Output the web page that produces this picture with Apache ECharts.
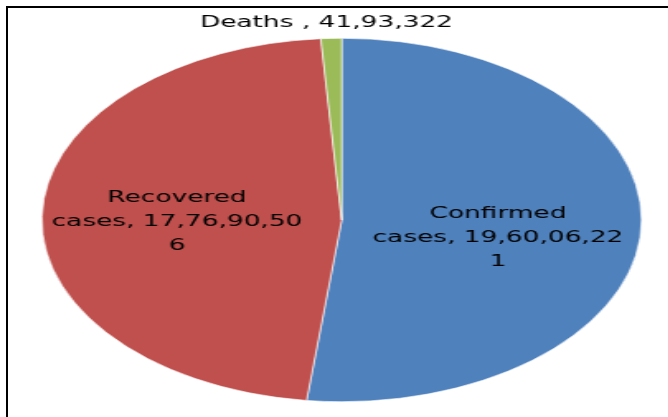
<!DOCTYPE html>
<html>
<head>
<meta charset="utf-8">
<script src="https://cdn.jsdelivr.net/npm/echarts@6/dist/echarts.min.js"></script>
<style>
  html, body { margin: 0; padding: 0; background: #fff; }
  #wrap { position: relative; width: 668px; height: 417px; overflow: hidden; background: #fff; }
  #frame { position: absolute; left: 6px; top: 6px; width: 700px; height: 450px;
           border-left: 2px solid #000; border-top: 2px solid #000; box-sizing: border-box; }
  #chart { position: absolute; left: 0; top: 0; width: 404.85px; height: 417px;
           transform-origin: 0 0; transform: scaleX(1.65); }
</style>
</head>
<body>
<div id="wrap">
  <div id="frame"></div>
  <div id="chart"></div>
</div>
<script>
  // Data
  const categories = ['Confirmed cases', 'Recovered cases', 'Deaths'];
  const values = [196006221, 177690506, 4193322];
  const labelTexts = [
    'Confirmed\ncases, 19,60,06,22\n1',
    'Recovered\ncases, 17,76,90,50\n6',
    'Deaths , 41,93,322'
  ];
  const colors = ['#4F81BD', '#C0504D', '#9BBB59'];
  const labelOffsets = [[1, 12], [-6, 4], [-6, -103]];

  const chart = echarts.init(document.getElementById('chart'), null, { renderer: 'canvas' });
  const data = categories.map((c, i) => ({
    name: c,
    value: values[i],
    itemStyle: { color: colors[i] },
    label: { offset: labelOffsets[i] }
  }));
  chart.setOption({
    animation: false,
    series: [{
      type: 'pie',
      center: [207.1, 220],
      radius: [0, 181.7],
      startAngle: 90,
      clockwise: true,
      data: data,
      itemStyle: { borderColor: '#ffffff', borderWidth: 0.6 },
      label: {
        show: true,
        position: 'inside',
        color: '#000',
        fontFamily: 'DejaVu Sans',
        fontSize: 16,
        lineHeight: 24,
        align: 'center',
        formatter: p => labelTexts[p.dataIndex]
      },
      labelLine: { show: false },
      emphasis: { disabled: true }
    }]
  });
</script>
</body>
</html>
